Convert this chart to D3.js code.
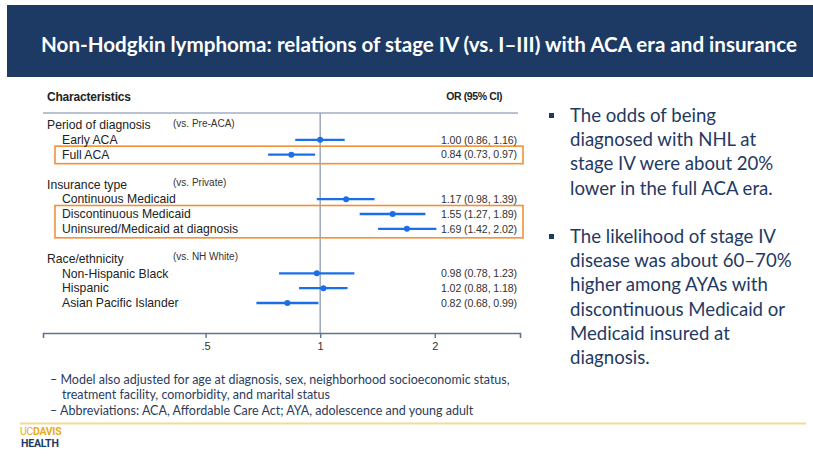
<!DOCTYPE html>
<html>
<head>
<meta charset="utf-8">
<script src="https://cdn.jsdelivr.net/npm/d3@7"></script>
<style>
  body { margin: 0; background: #fff; }
  svg { display: block; }
</style>
</head>
<body>
<div id="chart"></div>
<script>
// data
const groups = ["Period of diagnosis", "Insurance type", "Race/ethnicity"];
const refGroups = ["(vs. Pre-ACA)", "(vs. Private)", "(vs. NH White)"];
const categories = ["Early ACA", "Full ACA", "Continuous Medicaid", "Discontinuous Medicaid",
  "Uninsured/Medicaid at diagnosis", "Non-Hispanic Black", "Hispanic", "Asian Pacific Islander"];
const rowGroup = [0, 0, 1, 1, 1, 2, 2, 2];
const orValues = [1.00, 0.84, 1.17, 1.55, 1.69, 0.98, 1.02, 0.82];
const ciLow = [0.86, 0.73, 0.98, 1.27, 1.42, 0.78, 0.88, 0.68];
const ciHigh = [1.16, 0.97, 1.39, 1.89, 2.02, 1.23, 1.18, 0.99];
const highlighted = [[1], [3, 4]];
const xTicks = [0.5, 1, 2];
const xTickLabels = [".5", "1", "2"];

const title = "Non-Hodgkin lymphoma: relations of stage IV (vs. I\u2013III) with ACA era and insurance";
const bullets = [
  ["The odds of being", "diagnosed with NHL at", "stage IV were about 20%", "lower in the full ACA era."],
  ["The likelihood of stage IV", "disease was about 60\u201370%", "higher among AYAs with",
   "discontinuous Medicaid or", "Medicaid insured at", "diagnosis."]
];
const notes = [
  ["\u2013 Model also adjusted for age at diagnosis, sex, neighborhood socioeconomic status,", 50],
  ["treatment facility, comorbidity, and marital status", 62],
  ["\u2013 Abbreviations: ACA, Affordable Care Act; AYA, adolescence and young adult", 50]
];

const W = 813, H = 457;
const navy = "#1f3a62", blue = "#1a6fe8", orange = "#f0913a";

const svg = d3.select("#chart").append("svg")
  .attr("width", W).attr("height", H)
  .style("font-family", "Lato, 'Open Sans', sans-serif");

// title band
svg.append("rect").attr("x", 7).attr("y", 5).attr("width", W - 7).attr("height", 72).attr("fill", "#1c3a63");
svg.append("text").attr("x", 419).attr("y", 52).attr("text-anchor", "middle")
  .attr("fill", "#fff").attr("font-size", 20.6).attr("font-weight", "bold")
  .text(title);

// slot layout: group header, then its rows, then a blank slot
let slot = 0;
const headerSlot = [], rowSlot = [];
groups.forEach((g, gi) => {
  headerSlot.push(slot++);
  rowGroup.forEach((rg, i) => { if (rg === gi) rowSlot[i] = slot++; });
  slot++;
});

const y = d3.scaleLinear().domain([0, 12]).range([125, 303]);
const x = d3.scaleLog().base(2).domain([0.187, 3.35]).range([43, 520]);

const forest = svg.append("g").style("font-family", "'Liberation Sans', Arial, sans-serif");

forest.append("text").attr("x", 47).attr("y", 101).attr("font-size", 12).attr("font-weight", "bold")
  .attr("fill", "#222").attr("letter-spacing", -0.2).text("Characteristics");
forest.append("text").attr("x", 502).attr("y", 100).attr("text-anchor", "end").attr("font-size", 10.5)
  .attr("font-weight", "bold").attr("fill", "#222").attr("letter-spacing", -0.4).text("OR (95% CI)");
forest.append("line").attr("x1", 43).attr("x2", 518).attr("y1", 113).attr("y2", 113)
  .attr("stroke", "#b8c2d2").attr("stroke-width", 2);

// reference line at OR = 1
forest.append("line").attr("x1", x(1)).attr("x2", x(1)).attr("y1", 113).attr("y2", 333)
  .attr("stroke", "#8592aa").attr("stroke-width", 1.2);

// highlight boxes
highlighted.forEach(rows => {
  const top = y(rowSlot[rows[0]]) - 8.5, bottom = y(rowSlot[rows[rows.length - 1]]) + 9;
  forest.append("rect").attr("x", 55).attr("y", top).attr("width", 468).attr("height", bottom - top)
    .attr("fill", "none").attr("stroke", orange).attr("stroke-width", 1.6);
});

// group labels
groups.forEach((g, gi) => {
  forest.append("text").attr("x", 47).attr("y", y(headerSlot[gi])).attr("dy", "0.35em")
    .attr("font-size", 12.2).attr("fill", "#222").text(g);
  forest.append("text").attr("x", 173).attr("y", y(headerSlot[gi]) - 2).attr("dy", "0.35em")
    .attr("font-size", 10).attr("fill", "#333").text(refGroups[gi]);
});

const rows = forest.selectAll(".row").data(categories).enter().append("g").attr("class", "row");
rows.append("text").attr("x", 62).attr("y", (d, i) => y(rowSlot[i])).attr("dy", "0.35em")
  .attr("font-size", 12.2).attr("fill", "#222").text(d => d);
rows.append("line")
  .attr("x1", (d, i) => x(ciLow[i])).attr("x2", (d, i) => x(ciHigh[i]))
  .attr("y1", (d, i) => y(rowSlot[i])).attr("y2", (d, i) => y(rowSlot[i]))
  .attr("stroke", blue).attr("stroke-width", 2.4);
rows.append("circle").attr("cx", (d, i) => x(orValues[i])).attr("cy", (d, i) => y(rowSlot[i]))
  .attr("r", 3).attr("fill", blue);
rows.append("text").attr("x", 517).attr("y", (d, i) => y(rowSlot[i])).attr("dy", "0.35em")
  .attr("text-anchor", "end").attr("font-size", 10.6).attr("fill", "#333").attr("letter-spacing", -0.1)
  .text((d, i) => `${orValues[i].toFixed(2)} (${ciLow[i].toFixed(2)}, ${ciHigh[i].toFixed(2)})`);

// x axis
const xAxis = forest.append("g").attr("transform", "translate(0,333)")
  .call(d3.axisBottom(x).tickValues(xTicks).tickFormat((d, i) => xTickLabels[i]).tickSize(5).tickPadding(4));
xAxis.select(".domain").attr("stroke", "#5f7391").attr("stroke-width", 1.6);
xAxis.selectAll(".tick line").attr("stroke", "#5f7391").attr("stroke-width", 1.4);
xAxis.selectAll(".tick text").attr("font-size", 11).attr("fill", "#333")
  .style("font-family", "'Liberation Sans', Arial, sans-serif");

// footnotes
notes.forEach((n, i) => {
  svg.append("text").attr("x", n[1]).attr("y", [384, 399, 415][i]).attr("font-size", 12.5)
    .attr("fill", "#2b3c5c").text(n[0]);
});

// gold rule
svg.append("line").attr("x1", 20).attr("x2", 806).attr("y1", 423.5).attr("y2", 423.5)
  .attr("stroke", "#f1dc96").attr("stroke-width", 2);

// logo
const logo = svg.append("text").attr("x", 20).attr("y", 434.5).attr("font-size", 10.5).attr("fill", "#e8ab1e")
  .style("font-family", "Roboto, sans-serif").attr("letter-spacing", -0.3);
logo.append("tspan").text("UC");
logo.append("tspan").attr("font-weight", "bold").text("DAVIS");
svg.append("text").attr("x", 21).attr("y", 447).attr("font-size", 10.5).attr("font-weight", "bold")
  .attr("fill", "#1c3a63").style("font-family", "Roboto, sans-serif").attr("letter-spacing", -0.2).text("HEALTH");

// bullets
const bulletTop = [122, 243];
bullets.forEach((lines, bi) => {
  svg.append("rect").attr("x", 549).attr("y", bulletTop[bi] - 9).attr("width", 5).attr("height", 5).attr("fill", navy);
  lines.forEach((t, li) => {
    svg.append("text").attr("x", 570).attr("y", bulletTop[bi] + li * 24.2).attr("font-size", 18.6)
      .attr("fill", navy).text(t);
  });
});
</script>
</body>
</html>
